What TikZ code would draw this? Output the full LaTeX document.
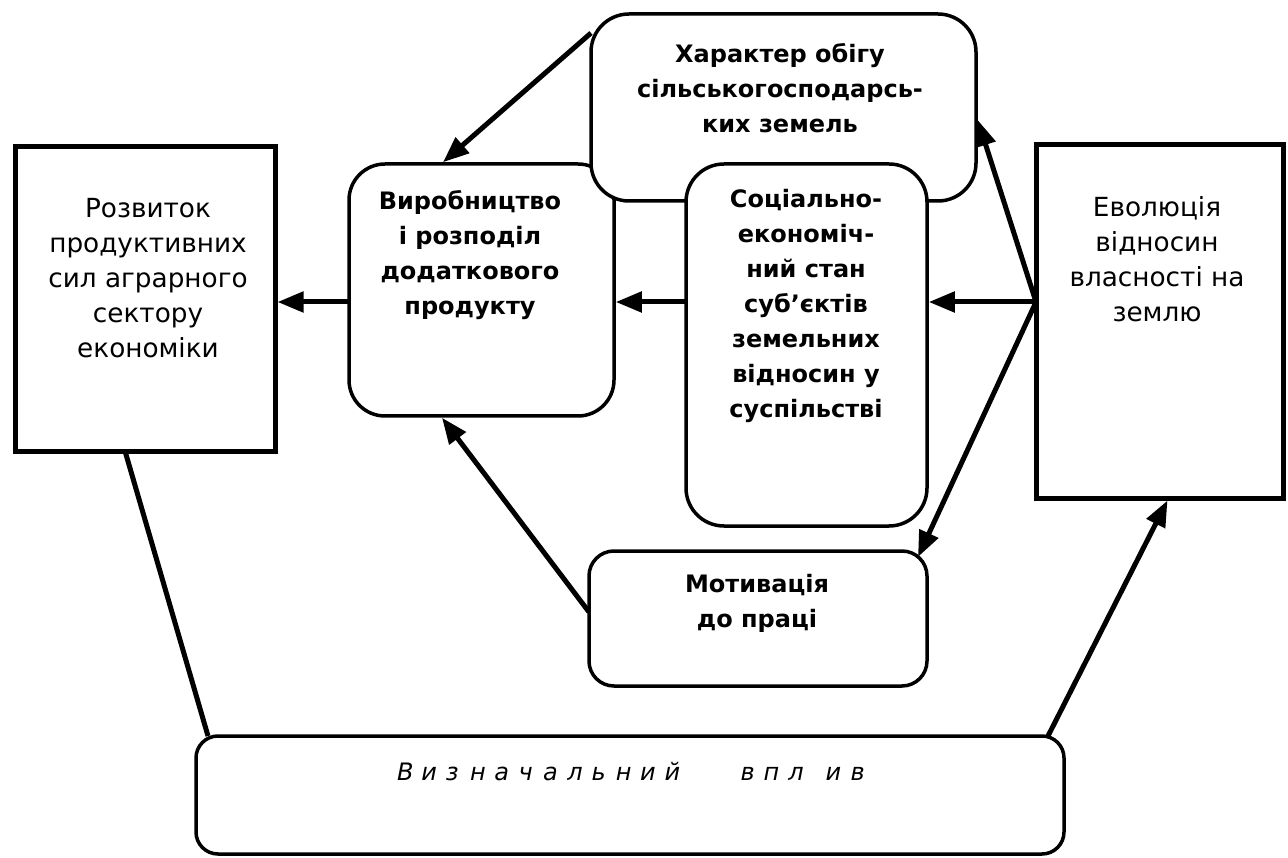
\documentclass[tikz,border=0pt]{standalone}
\usepackage{fontspec}
\setmainfont{DejaVu Sans}
\usetikzlibrary{arrows.meta,calc}
\newcommand\ltr[1]{\makebox[24.3pt][l]{#1}}
\begin{document}
\begin{tikzpicture}[x=1pt,y=-1pt,
  sq/.style={draw,line width=5pt,fill=white,inner sep=0pt,outer sep=0pt},
  rbox/.style={draw,line width=3.5pt,fill=white,inner sep=0pt,outer sep=0pt,rounded corners=#1},
  rbox/.default=36pt,
  reg/.style={align=center,font=\fontsize{26.3}{35}\selectfont},
  bld/.style={align=center,font=\fontsize{24}{35}\selectfont\bfseries},
  arr/.style={line width=5pt,-{Triangle[length=26pt,width=20pt]}},
  ln/.style={line width=5pt}]
\useasboundingbox (0,0) rectangle (1288,858);
% boxes
\node[sq,minimum width=260pt,minimum height=304pt] (rozv) at (145,299) {};
\node[sq,minimum width=247pt,minimum height=353pt] (evol) at (1159.5,321.5) {};
\node[rbox=36pt,minimum width=265pt,minimum height=252pt] (vyr) at (481.5,290) {};
\node[rbox=38pt,minimum width=385pt,minimum height=187pt] (khar) at (783.5,107.5) {};
\node[rbox=38pt,minimum width=241pt,minimum height=362pt] (soc) at (806.5,345) {};
\node[rbox=25pt,minimum width=338pt,minimum height=135pt] (mot) at (758,618.5) {};
\node[rbox=22pt,minimum width=868pt,minimum height=118pt] (bot) at (630,795) {};
% texts
\node[reg] (rozvt) at (148,278) {Розвиток\\продуктивних\\сил аграрного\\сектору\\економіки};
\node[reg] (evolt) at (1157,259) {Еволюція\\відносин\\власності на\\землю};
\node[bld] (vyrt) at (470,255) {Виробництво\\і розподіл\\додаткового\\продукту};
\node[bld] (khart) at (780,88) {Характер обігу\\сільськогосподарсь-\\ких земель};
\node[bld] (soct) at (806,306) {Соціально-\\економіч-\\ний стан\\суб’єктів\\земельних\\відносин у\\суспільстві};
\node[bld] (mott) at (757,603) {Мотивація\\до праці};
\node[anchor=base west,inner sep=0pt,font=\fontsize{24}{28}\selectfont\itshape] (bott) at (397,780)
  {\ltr{В}\ltr{и}\ltr{з}\ltr{н}\ltr{а}\ltr{ч}\ltr{а}\ltr{л}\ltr{ь}\ltr{н}\ltr{и}\makebox[76pt][l]{й}\makebox[23pt][l]{в}\makebox[25pt][l]{п}\makebox[37pt][l]{л}\makebox[25pt][l]{и}в};
% connectors
\coordinate (e) at ([yshift=19.5pt]evol.west);
\draw[arr] ([yshift=-19pt]khar.north west) -- ([xshift=94pt,yshift=1.75pt]vyr.north west);
\draw[arr] ([yshift=-12pt]vyr.west) -- ([xshift=2.5pt,yshift=-3pt]rozv.east);
\draw[arr] ([yshift=43pt]soc.west) -- ([xshift=1.75pt,yshift=-12pt]vyr.east);
\draw[arr] (e) -- ([xshift=1.75pt,yshift=43pt]soc.east);
\draw[arr] (e) -- ([xshift=1.75pt,yshift=-12.5pt]khar.east);
\draw[arr] (e) -- ([xshift=-9pt,yshift=-6pt]mot.north east);
\draw[arr] ([yshift=6.5pt]mot.west) -- ([xshift=93pt,yshift=-1.75pt]vyr.south west);
\draw[ln] ([xshift=110pt]rozv.south west) -- ([xshift=12pt]bot.north west);
\draw[arr] ([xshift=-16pt]bot.north east) -- ([xshift=8pt,yshift=-2.5pt]evol.south);
\end{tikzpicture}
\end{document}
